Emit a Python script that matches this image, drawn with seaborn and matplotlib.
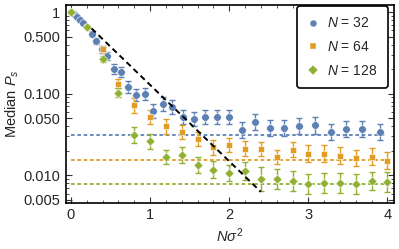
import matplotlib
matplotlib.use("Agg")
import matplotlib.pyplot as plt
import seaborn as sns
import numpy as np
import pandas as pd
from matplotlib.ticker import FixedLocator, NullFormatter, FixedFormatter
from matplotlib.lines import Line2D

# ---------------- data ----------------
blue_x = [0.003, 0.013, 0.029, 0.051, 0.08, 0.115, 0.157, 0.205, 0.26, 0.32, 0.39,
          0.46, 0.54, 0.63, 0.72, 0.82, 0.93, 1.04, 1.16, 1.28, 1.41, 1.55, 1.70,
          1.84, 2.00, 2.16, 2.33, 2.51, 2.69, 2.88, 3.08, 3.28, 3.48, 3.68, 3.91]
blue_y = [1.0, 0.98, 0.96, 0.92, 0.87, 0.80, 0.73, 0.66, 0.54, 0.44, 0.35,
          0.29, 0.20, 0.184, 0.121, 0.097, 0.099, 0.061, 0.075, 0.069, 0.052, 0.049, 0.052,
          0.052, 0.052, 0.036, 0.045, 0.038, 0.038, 0.040, 0.041, 0.034, 0.037, 0.037, 0.034]
blue_err = [0.01, 0.01, 0.01, 0.01, 0.01, 0.015, 0.015, 0.02, 0.03, 0.035, 0.04,
            0.045, 0.06, 0.065, 0.07, 0.075, 0.075, 0.085, 0.085, 0.085, 0.085, 0.09, 0.09,
            0.09, 0.09, 0.1, 0.1, 0.1, 0.1, 0.1, 0.1, 0.1, 0.1, 0.1, 0.1]

grid_x = [0.0, 0.2, 0.4, 0.6, 0.8, 1.0, 1.2, 1.4, 1.6, 1.8, 2.0,
          2.2, 2.4, 2.6, 2.8, 3.0, 3.2, 3.4, 3.6, 3.8, 4.0]
orange_y = [1.0, 0.66, 0.348, 0.133, 0.072, 0.052, 0.040, 0.034, 0.028, 0.022, 0.0235,
            0.0213, 0.021, 0.0168, 0.0207, 0.0185, 0.0185, 0.0175, 0.0163, 0.017, 0.0152]
orange_err = [0.01, 0.01, 0.045, 0.055, 0.095, 0.09, 0.09, 0.09, 0.09, 0.09, 0.09,
              0.09, 0.09, 0.09, 0.09, 0.1, 0.1, 0.1, 0.1, 0.1, 0.1]
green_y = [1.0, 0.66, 0.266, 0.103, 0.031, 0.026, 0.0168, 0.0178, 0.0134, 0.0118, 0.0107,
           0.0113, 0.0090, 0.0090, 0.0086, 0.0078, 0.0081, 0.0081, 0.0078, 0.0086, 0.0083]
green_err = [0.01, 0.01, 0.04, 0.055, 0.1, 0.09, 0.09, 0.1, 0.1, 0.1, 0.1,
             0.11, 0.15, 0.12, 0.12, 0.12, 0.12, 0.12, 0.12, 0.11, 0.12]

baseline_values = [0.03125, 0.015625, 0.0078125]   # 1/N
baseline_x = [0.0, 4.0]
slope_x = [0.26, 2.40]
slope_y = [0.63, 0.0063]

labels = ["32", "64", "128"]
colors = ["#5E81B5", "#E19C24", "#8FB032"]
markers = ["o", "s", "D"]
msizes = [30, 20, 22]

ytick_vals = [1, 0.5, 0.1, 0.05, 0.01, 0.005]
ytick_labels = ["1", "0.500", "0.100", "0.050", "0.010", "0.005"]
xtick_vals = [0, 1, 2, 3, 4]

# ---------------- style ----------------
sns.set_style("ticks")
plt.rcParams["font.family"] = ["Liberation Sans", "DejaVu Sans"]
plt.rcParams["mathtext.fontset"] = "custom"
plt.rcParams["mathtext.rm"] = "Liberation Sans"
plt.rcParams["mathtext.it"] = "Liberation Sans:italic"
plt.rcParams["mathtext.bf"] = "Liberation Sans:bold"

fig = plt.figure(figsize=(3.99, 2.49), dpi=100)
ax = fig.add_axes([0.165, 0.185, 0.822, 0.795])

ax.set_yscale("log")

series = [(blue_x, blue_y, blue_err), (grid_x, orange_y, orange_err), (grid_x, green_y, green_err)]

# baselines
for val, c in zip(baseline_values, colors):
    ax.plot(baseline_x, [val, val], color=c, lw=1.3, ls=(0, (2.0, 1.5)), zorder=1)

for (xs, ys, es), lab, c, m, s in zip(series, labels, colors, markers, msizes):
    ys_a = np.array(ys)
    es_a = np.array(es)
    lo = ys_a - ys_a * 10 ** (-es_a)
    hi = ys_a * 10 ** es_a - ys_a
    ax.errorbar(xs, ys, yerr=[lo, hi], fmt="none", ecolor=c, elinewidth=1.0,
                capsize=2.4, capthick=1.0, zorder=2)
    df = pd.DataFrame({"x": xs, "y": ys})
    sns.scatterplot(data=df, x="x", y="y", color=c, marker=m, s=s, ax=ax,
                    edgecolor="white", linewidth=0.4, zorder=3, legend=False)

# slope line
sns.lineplot(x=slope_x, y=slope_y, ax=ax, color="black", lw=1.4,
             linestyle=(0, (3.0, 2.0)), zorder=4)

ax.set_xlim(-0.065, 4.08)
ax.set_ylim(0.0046, 1.22)

ax.yaxis.set_major_locator(FixedLocator(ytick_vals))
ax.yaxis.set_major_formatter(FixedFormatter(ytick_labels))
minor_y = [m * 10.0 ** e for e in (-3, -2, -1) for m in range(1, 10)] + [1.0]
minor_y = [v for v in minor_y if v not in ytick_vals]
ax.yaxis.set_minor_locator(FixedLocator(minor_y))
ax.yaxis.set_minor_formatter(NullFormatter())

ax.xaxis.set_major_locator(FixedLocator(xtick_vals))
ax.xaxis.set_minor_locator(FixedLocator([i * 0.2 for i in range(0, 21)]))

ax.tick_params(which="both", direction="in", top=True, right=True, color="#333333")
ax.tick_params(which="major", length=4, width=0.8, labelsize=10.5, pad=4)
ax.tick_params(which="minor", length=2, width=0.6)
for sp in ax.spines.values():
    sp.set_linewidth(1.2)
    sp.set_color("black")

ax.set_xlabel(r"$N\sigma^2$", fontsize=10.5, labelpad=3)
ax.set_ylabel(r"Median $P_s$", fontsize=10.5, labelpad=2)

handles = [Line2D([], [], ls="none", marker=m, color=c, markersize=ms,
                  markeredgecolor="white", markeredgewidth=0.3)
           for m, c, ms in zip(markers, colors, [5.0, 4.2, 4.6])]
leg = ax.legend(handles, [r"$N$ = " + l for l in labels], loc="upper right",
                bbox_to_anchor=(0.982, 0.995), fontsize=10, frameon=True,
                fancybox=True, handlelength=0.8, handletextpad=0.6,
                labelspacing=0.7, borderpad=0.75, borderaxespad=0.0)
leg.get_frame().set_edgecolor("black")
leg.get_frame().set_linewidth(1.2)
leg.get_frame().set_facecolor("white")
leg.get_frame().set_alpha(1.0)

fig.savefig("out.png", dpi=100)
